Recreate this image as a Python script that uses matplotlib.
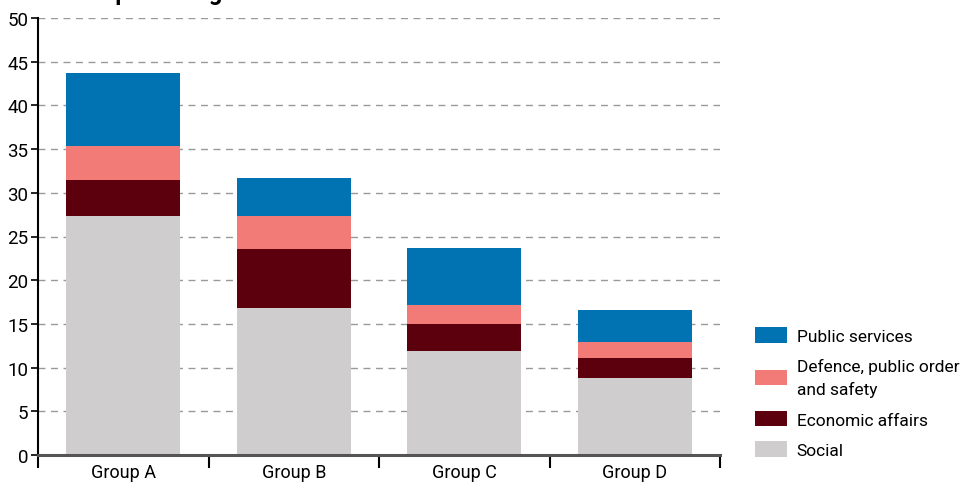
import matplotlib
matplotlib.use("Agg")
import matplotlib.pyplot as plt
from matplotlib import font_manager
import numpy as np

# data
groups = ["Group A", "Group B", "Group C", "Group D"]
social = [27.3, 16.8, 11.9, 8.8]
economic = [4.2, 6.8, 3.1, 2.3]
defence = [3.9, 3.7, 2.2, 1.8]
public = [8.3, 4.4, 6.5, 3.7]

series_labels = ["Social", "Economic affairs", "Defence, public order\nand safety", "Public services"]
colors = ["#cfcdce", "#5c000e", "#f27b77", "#0173b2"]

# pick a narrow font if there is one
names = {f.name for f in font_manager.fontManager.ttflist}
family = ["Liberation Sans Narrow"] if "Liberation Sans Narrow" in names else ["Roboto"]
plt.rcParams["font.family"] = family + ["DejaVu Sans"]

fig = plt.figure(figsize=(9.65, 4.89), dpi=100)
ax = fig.add_axes([38 / 965, 33 / 489, 682 / 965, 437 / 489])

x = np.arange(len(groups))
bottom = np.zeros(len(groups))
handles = []
for vals, lab, col in zip([social, economic, defence, public], series_labels, colors):
    b = ax.bar(x, vals, width=0.67, bottom=bottom, color=col, label=lab, zorder=3)
    handles.append(b)
    bottom += np.array(vals)

ax.set_xlim(-0.5, 3.5)
ax.set_ylim(0, 50)
ax.set_yticks(range(0, 51, 5))
ax.yaxis.grid(True, linestyle=(0, (5, 4)), color="#999999", linewidth=1, zorder=0)

ax.set_xticks(x)
ax.set_xticklabels(groups)
ax.tick_params(axis="x", length=0, labelsize=13, pad=6)
ax.set_xticks(np.arange(-0.5, 4, 1), minor=True)
ax.tick_params(axis="x", which="minor", length=9, width=1.5, color="black")
ax.tick_params(axis="y", length=5, width=1.2, labelsize=13.5, pad=2)

for s in ["top", "right"]:
    ax.spines[s].set_visible(False)
ax.spines["left"].set_linewidth(1.5)
ax.spines["bottom"].set_color("#555555")
ax.spines["bottom"].set_linewidth(2.2)
ax.spines["bottom"].set_zorder(4)

leg = fig.legend(handles[::-1], [h.get_label() for h in handles[::-1]],
                 loc="lower left", bbox_to_anchor=(741 / 965, 16 / 489),
                 frameon=False, fontsize=12.5, handlelength=1.85, handleheight=1.0,
                 labelspacing=0.8, handletextpad=0.55, borderpad=0.3)
for t in leg.get_texts():
    t.set_linespacing(1.55)

# title is cut off at the top of the picture, only descenders show
fig.text(0.005, 1.0, "Shares as percentage of GDP", fontsize=17, fontweight="bold",
         va="baseline", ha="left")

fig.savefig("out.png", dpi=100)
